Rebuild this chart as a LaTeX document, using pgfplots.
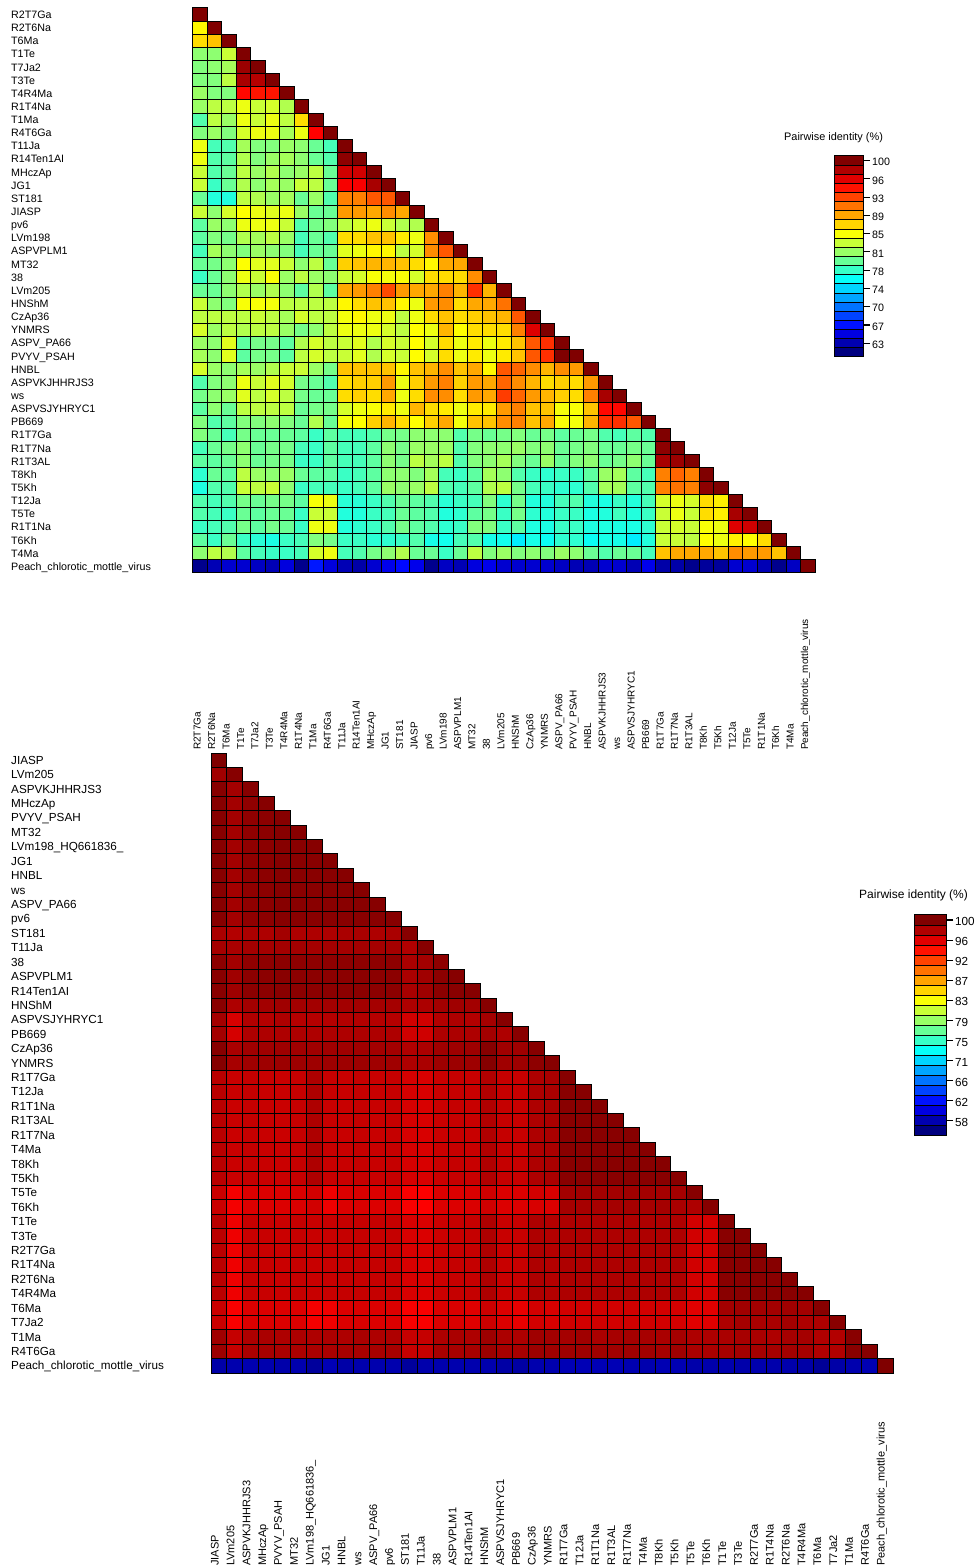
\documentclass[border=0pt]{standalone}
\usepackage{fontspec}
\setmainfont{Liberation Sans}
\usepackage{pgfplots}
\pgfplotsset{compat=1.18}

% jet, positions as in the reference's colour bars
\pgfplotsset{
  colormap={pw}{rgb255(0cm)=(0,0,128) rgb255(1cm)=(0,0,255) rgb255(3cm)=(0,255,255)
    rgb255(5cm)=(255,255,0) rgb255(7cm)=(255,0,0) rgb255(8cm)=(128,0,0)},
  colormap={pwt}{rgb255(0cm)=(0,0,128) rgb255(1cm)=(0,0,255) rgb255(2.75cm)=(0,255,255)
    rgb255(5cm)=(255,255,0) rgb255(7cm)=(255,0,0) rgb255(8cm)=(128,0,0)},
  colormap name=pw,
  cell/.style={scatter,only marks,mark=square*,mark size=7pt,point meta=explicit,
    scatter/use mapped color={draw=black,fill=mapped color},line width=1pt},
  tri/.style={scale only axis,anchor=south west,clip=false,y dir=reverse,
    xmin=-0.5,xmax=42.5,ymin=-0.5,ymax=42.5,
    xtick={0,...,42},ytick={0,...,42},major tick length=0pt,
    axis line style={draw=none},typeset ticklabels with strut},
  bar/.style={scale only axis,anchor=south west,clip=false,y dir=reverse,
    xmin=0,xmax=1,ymin=-0.5,ymax=21.5,xtick=\empty,ytick={0,2,...,20},
    ytick pos=right,yticklabel pos=right,tick align=outside,major tick length=7pt,
    axis line style={draw=none},tick style={black,line width=1.1pt},
    yticklabel style={anchor=west,inner sep=0pt,xshift=2pt,yshift=-1.5pt}},
}
\newcommand{\cellrow}[3][]{\addplot[cell,#1] table[x expr=\coordindex,y expr=#2,meta index=0,header=false,row sep=\\]{#3};}

\def\toplab{R2T7Ga,R2T6Na,T6Ma,T1Te,T7Ja2,T3Te,T4R4Ma,R1T4Na,T1Ma,R4T6Ga,T11Ja,R14Ten1AI,MHczAp,JG1,ST181,JIASP,pv6,LVm198,ASPVPLM1,MT32,38,LVm205,HNShM,CzAp36,YNMRS,ASPV\_PA66,PVYV\_PSAH,HNBL,ASPVKJHHRJS3,ws,ASPVSJYHRYC1,PB669,R1T7Ga,R1T7Na,R1T3AL,T8Kh,T5Kh,T12Ja,T5Te,R1T1Na,T6Kh,T4Ma,Peach\_chlorotic\_mottle\_virus}
\def\botlab{JIASP,LVm205,ASPVKJHHRJS3,MHczAp,PVYV\_PSAH,MT32,LVm198\_HQ661836\_,JG1,HNBL,ws,ASPV\_PA66,pv6,ST181,T11Ja,38,ASPVPLM1,R14Ten1AI,HNShM,ASPVSJYHRYC1,PB669,CzAp36,YNMRS,R1T7Ga,T12Ja,R1T1Na,R1T3AL,R1T7Na,T4Ma,T8Kh,T5Kh,T5Te,T6Kh,T1Te,T3Te,R2T7Ga,R1T4Na,R2T6Na,T4R4Ma,T6Ma,T7Ja2,T1Ma,R4T6Ga,Peach\_chlorotic\_mottle\_virus}

\begin{document}
\begin{tikzpicture}
\path[use as bounding box] (0,0) rectangle (976pt,1566pt);

% upper triangle
\begin{axis}[tri,at={(193pt,993pt)},width=622pt,height=565pt,colormap name=pwt,
  point meta min=62,point meta max=100,
  cell/.append style={mark options={xscale=1.0336,yscale=0.9386}},
  xticklabels/.expand once=\toplab,yticklabels/.expand once=\toplab,
  yticklabel style={anchor=west,inner sep=0pt,xshift=-182pt,yshift=-1.5pt,font=\fontsize{10.7}{12}\selectfont},
  xticklabel style={xshift=-2pt,yshift=-177pt,rotate=90,anchor=west,inner sep=0pt,font=\fontsize{10}{12}\selectfont}]
\cellrow{0}{100\\}
\cellrow{1}{86\\100\\}
\cellrow{2}{87\\88\\100\\}
\cellrow{3}{81\\81\\83.5\\100\\}
\cellrow{4}{80.5\\81\\82\\99\\100\\}
\cellrow{5}{80.5\\80.5\\83\\98.5\\98\\100\\}
\cellrow{6}{81.5\\80.5\\80.5\\95\\94.5\\94.5\\100\\}
\cellrow{7}{81.5\\83\\83\\85\\83.5\\84\\82.5\\100\\}
\cellrow{8}{78.5\\83\\81.5\\85\\83.5\\85\\83\\87\\100\\}
\cellrow{9}{80.5\\81.5\\80.5\\84\\85\\85\\82\\85\\95.2\\100\\}
\cellrow{10}{85\\78\\78.5\\82\\80.5\\80.5\\81.5\\81\\79.5\\78\\100\\}
\cellrow{11}{85\\78.5\\79\\82.5\\80.5\\81.5\\82\\81\\79.5\\78.5\\99.5\\100\\}
\cellrow{12}{83.5\\78.5\\79.5\\83\\81.5\\82.5\\81\\81.5\\83\\79.5\\97\\97\\100\\}
\cellrow{13}{83.5\\77.5\\79.5\\82.5\\81\\82\\81.5\\83.5\\83\\79.5\\95.5\\95.5\\98.5\\100\\}
\cellrow{14}{79.5\\76.5\\76.5\\83\\82.5\\81.5\\82\\79.5\\81.5\\78.5\\90.5\\90.5\\92\\92\\100\\}
\cellrow{15}{83.5\\81\\84\\85.8\\85\\84.5\\85\\81.5\\79.5\\79.5\\89.5\\89.5\\89\\90\\89\\100\\}
\cellrow{16}{79\\81.5\\81\\85\\85\\85\\83.5\\78.5\\80\\80.5\\83\\84\\85\\83.5\\82.5\\82.5\\100\\}
\cellrow{17}{79\\80.5\\80\\82.5\\82\\83\\81.5\\78\\79.5\\78.5\\87\\87\\88\\88\\86.5\\85\\90\\100\\}
\cellrow{18}{78\\82\\81\\80.5\\81.5\\81\\80.5\\78\\79.5\\79.5\\84.5\\85\\86\\86\\83\\84\\90\\92\\100\\}
\cellrow{19}{79.5\\80\\81\\85.7\\84.5\\84.5\\83.5\\81\\83\\79.5\\87.5\\88\\88.5\\88.5\\88\\87\\86\\89\\89\\100\\}
\cellrow{20}{77.5\\79.5\\81\\85\\83.5\\85.5\\81.5\\83\\81.5\\81\\83.5\\84\\85.5\\85.3\\85.5\\84\\87\\87\\87\\90\\100\\}
\cellrow{21}{79.5\\79.5\\81\\82.5\\81.5\\82.5\\81\\79\\82.5\\79\\89\\89.5\\90.5\\92.5\\89.5\\89\\89\\90.5\\88.5\\93.5\\88.5\\100\\}
\cellrow{22}{83.5\\81\\80.5\\85.5\\85.5\\85.3\\83\\83\\83\\83\\86\\87\\88\\88\\86\\85\\89.5\\90\\87\\89\\89\\91\\100\\}
\cellrow{23}{83\\83\\83\\83\\83.5\\83\\82\\84\\83\\83\\85.3\\86\\85\\85\\83\\85\\87\\88\\87\\87.5\\88\\88.5\\92\\100\\}
\cellrow{24}{84\\81.5\\83\\82.5\\83\\83\\81.5\\80\\81\\83\\85\\85\\85\\84\\83\\85.8\\85\\88.5\\85.8\\87\\87\\87\\90.5\\96.5\\100\\}
\cellrow{25}{81.5\\81\\84.5\\79\\80\\80\\79\\82.5\\84\\83\\83.5\\84.5\\82.5\\84\\83.5\\85.8\\84\\87\\85\\86.5\\85\\86.5\\88\\92\\93.5\\100\\}
\cellrow{26}{82\\81\\84.5\\79\\80\\80\\79\\83\\84\\83\\83.5\\84.5\\82.5\\84\\83.5\\85.8\\84\\87\\85\\86.5\\85\\86.5\\88\\92\\93.5\\100\\100\\}
\cellrow{27}{84\\81.5\\81\\82\\81.5\\82.5\\83.5\\83.5\\81.5\\80\\88\\88\\88\\88\\86\\88\\88.5\\90\\88\\89\\86\\92\\91.5\\90\\88.5\\90\\89.5\\100\\}
\cellrow{28}{78.5\\80.5\\81\\85\\83.5\\84.5\\84\\80\\79.5\\78.5\\87\\87.5\\87.5\\89.5\\85\\87.5\\89.5\\90.5\\87.5\\89.5\\89\\91.5\\90\\88.5\\87\\87.5\\87\\89.5\\100\\}
\cellrow{29}{80\\81\\81.5\\84.5\\83\\84\\83\\80\\79.5\\79.5\\87\\87.5\\87\\89\\85\\87\\90\\90\\87\\89.5\\89\\93\\91.5\\89.5\\88.5\\87.5\\87\\90.5\\98.5\\100\\}
\cellrow{30}{79\\81\\79.5\\83\\83\\83\\83\\79.5\\80\\80\\84\\85\\85.5\\86.5\\85\\88.5\\87\\86.5\\85\\86.5\\86.5\\89.5\\90.5\\88\\88\\85.3\\85.5\\88\\95\\95\\100\\}
\cellrow{31}{80.5\\78.5\\79\\80.5\\80.5\\81\\80.5\\79.5\\82.5\\79.5\\85.3\\85.8\\87.5\\88.5\\87\\85.8\\87.5\\89\\85.3\\88\\88\\90\\90.5\\88\\89\\85.5\\85.3\\88.5\\93.5\\93.5\\92\\100\\}
\cellrow{32}{80.5\\79.5\\78\\80\\79.5\\79.5\\79.5\\79\\77.5\\79\\78\\78\\78.5\\80\\80\\81\\81\\81\\78.5\\80\\79.5\\80\\80.5\\79.5\\80\\79\\79.5\\80\\78.5\\78\\79\\78.5\\100\\}
\cellrow{33}{78\\79.5\\80\\81\\79.5\\80\\80\\78\\77.5\\79\\78\\78\\79\\81\\80\\81.5\\81.5\\81.5\\78.5\\80.5\\81\\81\\81.5\\80.5\\81\\79.5\\80\\80.5\\79.5\\79.5\\80\\79.5\\99.5\\100\\}
\cellrow{34}{79\\79\\79.5\\81\\79.5\\80\\80\\77.5\\77.5\\79\\78\\78\\79\\81\\80\\83\\82\\83\\78.5\\80.5\\81\\82\\80.5\\79.5\\81.5\\79.5\\80.5\\81\\79.5\\80\\81\\79.5\\98.5\\99\\100\\}
\cellrow{35}{77\\79.5\\79\\83\\81.5\\81\\81.5\\79.5\\79\\79\\77.5\\78\\79\\81\\81\\80.5\\82\\78\\77.5\\79\\82\\81\\78.5\\77.5\\77\\77.5\\77.5\\79\\81.5\\82\\79\\78\\90.5\\91.5\\90.5\\100\\}
\cellrow{36}{76.3\\78.5\\78.5\\83.5\\83\\83.5\\81\\77.5\\78\\78\\77.5\\78\\79\\81.5\\81\\81.5\\83\\78.5\\78\\79\\82.5\\83\\80\\78\\77.5\\77\\77\\78.5\\82\\82\\79\\78.5\\90.5\\91\\90.5\\99.5\\100\\}
\cellrow{37}{78.5\\78\\78.5\\80\\79.5\\80\\80\\79\\85.5\\85\\76.8\\76.8\\77.5\\78.5\\79.5\\79\\78.5\\76.8\\77.5\\78\\80.5\\77\\80\\76.5\\76.5\\78\\78.5\\76.5\\76.2\\77.5\\76.5\\78\\84\\85\\84\\87\\86.3\\100\\}
\cellrow{38}{78.5\\78\\77.5\\79.5\\79\\79.5\\79.5\\77.5\\83.5\\83.5\\76.5\\76.5\\77.5\\78\\79.5\\79\\78.5\\76.5\\77\\79\\80\\77.5\\80\\77\\76.5\\77.5\\77.5\\76.2\\76.5\\77.8\\76.5\\77.5\\83.5\\85\\83.5\\87\\86.3\\98.5\\100\\}
\cellrow{39}{77.5\\78\\78.5\\80\\79\\80\\79.5\\77.5\\85\\85\\76.5\\77\\77.5\\78.5\\80\\79\\78.5\\77\\77.5\\80.5\\80.5\\77.5\\79\\76.3\\76.2\\77.5\\77.5\\76.3\\76.3\\76.2\\76.2\\77\\83.5\\84\\83.5\\85.5\\85\\96.5\\97\\100\\}
\cellrow{40}{79\\77.5\\79.5\\77.5\\76.8\\76.2\\77.5\\78\\80.5\\80\\77.5\\77.5\\76.8\\77\\77.5\\78.5\\76\\75.8\\78\\78.5\\76\\75.8\\74.5\\76\\75.5\\77\\77\\75.5\\76\\76\\74.5\\76.5\\83.5\\83.5\\83\\85.8\\85\\86.3\\85.7\\87\\100\\}
\cellrow{41}{81\\83\\82.5\\79\\78\\77.5\\77.5\\78\\84\\85\\78\\78.5\\80\\81\\82.5\\79.5\\79.5\\77.5\\79.5\\83\\80.5\\81.5\\80.5\\81\\80.5\\81.5\\81\\79.5\\78.5\\79.5\\79.5\\78\\88\\89\\89\\89\\88\\90\\89.5\\89.5\\88\\100\\}
\cellrow{42}{62.5\\64\\65\\65\\64.5\\64\\65.5\\62.5\\67.5\\65.5\\64\\63.5\\65\\66\\67\\66\\62.5\\64.5\\64\\65.5\\66\\65\\65\\65\\65\\64.5\\64\\64\\65\\65\\64\\66\\63.5\\63.5\\62.5\\63\\63\\65\\65\\64\\62.5\\64.5\\100\\}
\end{axis}

% lower triangle
\begin{axis}[tri,at={(211pt,193pt)},width=682pt,height=620pt,
  point meta min=56,point meta max=100,
  cell/.append style={mark options={xscale=1.1329,yscale=1.03}},
  xticklabels/.expand once=\botlab,yticklabels/.expand once=\botlab,
  yticklabel style={anchor=west,inner sep=0pt,xshift=-200pt,yshift=-1.5pt,font=\fontsize{11.7}{13}\selectfont},
  xticklabel style={xshift=-3pt,yshift=-193pt,rotate=90,anchor=west,inner sep=0pt,font=\fontsize{11}{13}\selectfont}]
\cellrow{0}{100\\}
\cellrow{1}{98.6\\99.7\\}
\cellrow{2}{99.7\\98.5\\99.7\\}
\cellrow{3}{99.7\\98.5\\99.3\\99.7\\}
\cellrow{4}{99.7\\98.5\\99.3\\99.5\\99.7\\}
\cellrow{5}{99.7\\98.5\\99.3\\99.5\\99.7\\99.7\\}
\cellrow{6}{99.7\\98.5\\99.3\\99.5\\99.7\\99.6\\99.7\\}
\cellrow{7}{99.7\\98.5\\99.3\\99.5\\99.7\\99.6\\99.6\\99.7\\}
\cellrow{8}{99.7\\98.5\\99.3\\99.5\\99.7\\99.6\\99.6\\99.6\\99.7\\}
\cellrow{9}{99.7\\98.5\\99.3\\99.5\\99.7\\99.6\\99.6\\99.6\\99.6\\99.7\\}
\cellrow{10}{99.7\\98.5\\99.3\\99.5\\99.7\\99.6\\99.6\\99.6\\99.6\\99.6\\99.7\\}
\cellrow{11}{99.7\\98.5\\99.3\\99.5\\99.7\\99.6\\99.6\\99.6\\99.6\\99.6\\99.6\\99.7\\}
\cellrow{12}{98.2\\97.8\\98.1\\98\\98.5\\98\\98\\98\\98.2\\98.2\\98\\98.2\\99.7\\}
\cellrow{13}{98.4\\98.2\\98.4\\98.4\\98.5\\98.5\\98.4\\98.4\\98.4\\98.4\\98.4\\98.4\\97.9\\99.7\\}
\cellrow{14}{99.5\\98.5\\99.3\\99.4\\99.5\\99.4\\99.4\\99.4\\99.4\\99.4\\99.4\\99.4\\98.2\\98.5\\99.4\\}
\cellrow{15}{99.6\\98.6\\99.5\\99.5\\99.6\\99.5\\99.5\\99.5\\99.5\\99.5\\99.5\\99.5\\98.2\\98.6\\99.5\\99.7\\}
\cellrow{16}{99.6\\98.7\\99.5\\99.5\\99.6\\99.5\\99.5\\99.5\\99.5\\99.5\\99.5\\99.5\\98.3\\98.7\\99.5\\99.6\\99.7\\}
\cellrow{17}{99.6\\98\\98.5\\98.5\\98.6\\98.5\\98.5\\98.5\\98.5\\98.5\\98.4\\98.4\\98\\98.1\\98.5\\98.6\\98.5\\99.7\\}
\cellrow{18}{98.5\\96.2\\97.9\\97.7\\98\\97.7\\97.7\\97.7\\97.8\\97.8\\97.7\\97.7\\96.5\\96.5\\97.8\\98\\97.8\\98.4\\99.7\\}
\cellrow{19}{98.5\\96.3\\98\\98\\98\\98\\98\\98\\98\\98\\98\\98\\96.6\\96.6\\98\\98.1\\98\\98.5\\98\\99.6\\}
\cellrow{20}{99.7\\98.2\\98.6\\98.6\\98.7\\98.6\\98.6\\98.6\\98.6\\98.6\\98.5\\98.5\\97.9\\98.1\\98.6\\98.7\\98.7\\99.7\\98.6\\98.6\\99.7\\}
\cellrow{21}{99.8\\98.3\\98.6\\98.7\\98.8\\98.7\\98.7\\98.7\\98.7\\98.7\\98.6\\98.6\\98\\98.2\\98.7\\98.8\\98.7\\99.8\\98.6\\98.7\\99.4\\99.7\\}
\cellrow{22}{97.5\\96.8\\97\\96.9\\96.8\\97\\98\\96.9\\96.9\\97\\96.9\\97\\96.3\\96.2\\96.8\\97\\96.9\\97.9\\97\\96.9\\98\\98.2\\99.7\\}
\cellrow{23}{97.5\\96.8\\97\\96.9\\96.8\\97\\98\\96.9\\96.9\\97\\96.9\\97\\96.3\\96.2\\96.8\\97\\96.9\\97.9\\97\\96.9\\98\\98.2\\99.6\\99.7\\}
\cellrow{24}{97.5\\96.8\\97\\96.9\\96.8\\97\\98\\96.9\\96.9\\97\\96.9\\97\\96.3\\96.2\\96.8\\97\\96.9\\97.9\\97\\96.9\\98\\98.2\\99.6\\99.6\\99.7\\}
\cellrow{25}{97.5\\96.8\\97\\96.9\\96.8\\97\\98\\96.9\\96.9\\97\\96.9\\97\\96.3\\96.2\\96.8\\97\\96.9\\97.9\\97\\96.9\\98\\98.2\\99.6\\99.6\\99.6\\99.7\\}
\cellrow{26}{97.5\\96.8\\97\\96.9\\96.8\\97\\98\\96.9\\96.9\\97\\96.9\\97\\96.3\\96.2\\96.8\\97\\96.9\\97.9\\97\\96.9\\98\\98.2\\99.6\\99.6\\99.6\\99.6\\99.7\\}
\cellrow{27}{97.5\\96.8\\97\\96.9\\96.8\\97\\98\\96.9\\96.9\\97\\96.9\\97\\96.3\\96.2\\96.8\\97\\96.9\\97.9\\97\\96.9\\98\\98.2\\99.6\\99.6\\99.6\\99.6\\99.6\\99.7\\}
\cellrow{28}{97.5\\96.8\\97\\96.9\\96.8\\97\\98\\96.9\\96.9\\97\\96.9\\97\\96.3\\96.2\\96.8\\97\\96.9\\97.9\\97\\96.9\\98\\98.2\\99.6\\99.6\\99.6\\99.6\\99.6\\99.6\\99.7\\}
\cellrow{29}{97.5\\96.8\\97\\96.9\\96.8\\97\\98\\96.9\\96.9\\97\\96.9\\97\\96.3\\96.2\\96.8\\97\\96.9\\97.9\\97\\96.9\\98\\98.2\\99.6\\99.6\\99.6\\99.6\\99.6\\99.6\\99.6\\99.7\\}
\cellrow{30}{96.8\\95\\96\\96\\96\\96.1\\96.5\\95.2\\96\\96.1\\96\\96\\94.8\\94.6\\96\\96\\96.1\\96.6\\96\\96\\96.5\\96.2\\98.5\\98.6\\98.5\\98.5\\98.6\\98.5\\98.4\\98.4\\99.7\\}
\cellrow{31}{96.8\\95\\96\\96\\96\\96.1\\96.5\\95.2\\96\\96.1\\96\\96\\94.8\\94.6\\96\\96\\96.1\\96.6\\96\\96\\96.2\\96\\98.4\\98.3\\98.3\\98.4\\98.4\\98.3\\98.4\\98.2\\98\\99.7\\}
\cellrow{32}{97.5\\95.2\\96.9\\96.9\\96.8\\97\\96.9\\96.9\\97\\97\\97\\97\\96.2\\96.1\\96.7\\97\\97\\98\\96.9\\96.9\\98\\97.8\\98\\98\\98\\98\\98\\98\\98\\98\\96.5\\96.3\\99.7\\}
\cellrow{33}{97.5\\95.2\\96.9\\96.9\\96.8\\97\\96.9\\96.9\\97\\97\\97\\97\\96.2\\96.1\\96.7\\97\\97\\98\\96.9\\96.9\\98\\97.8\\98\\98\\98\\98\\98\\98\\98\\98\\96.5\\96.3\\99.6\\99.7\\}
\cellrow{34}{97.5\\95.2\\96.9\\96.9\\96.8\\97\\96.9\\96.9\\97\\97\\97\\97\\96.2\\96.1\\96.7\\97\\97\\98\\96.9\\96.9\\98\\97.8\\98\\98\\98\\98\\98\\98\\98\\98\\96.5\\96.3\\99.6\\99.6\\99.7\\}
\cellrow{35}{97.5\\95.2\\96.9\\96.9\\96.8\\97\\96.9\\96.9\\97\\97\\97\\97\\96.2\\96.1\\96.7\\97\\97\\98\\96.9\\96.9\\98\\97.8\\98\\98\\98\\98\\98\\98\\98\\98\\96.5\\96.3\\99.6\\99.6\\99.6\\99.7\\}
\cellrow{36}{97.5\\95.2\\96.9\\96.9\\96.8\\97\\96.9\\96.9\\97\\97\\97\\97\\96.2\\96.1\\96.7\\97\\97\\98\\96.9\\96.9\\98\\97.8\\98\\98\\98\\98\\98\\98\\98\\98\\96.5\\96.3\\99.6\\99.6\\99.6\\99.6\\99.7\\}
\cellrow{37}{97.5\\95.2\\96.9\\96.9\\96.8\\97\\96.9\\96.9\\97\\97\\97\\97\\96.2\\96.1\\96.7\\97\\97\\98\\96.9\\96.9\\98\\97.8\\98\\98\\98\\98\\98\\98\\98\\98\\96.5\\96.3\\99.6\\99.6\\99.6\\99.6\\99.6\\99.7\\}
\cellrow{38}{96.8\\94.7\\96\\96\\96\\96\\95\\95.2\\96\\96.1\\96\\96\\94.8\\94.7\\96\\96.1\\95.9\\96.7\\96\\95.5\\96.5\\96.2\\96.5\\96.5\\96.5\\96.5\\96.5\\96.5\\96.5\\96.3\\95.8\\95.8\\98.5\\98.6\\98.5\\98.5\\98.6\\98.5\\99.7\\}
\cellrow{39}{96.8\\94.7\\96\\96\\96\\96\\95\\95.2\\96\\96.1\\96\\96\\94.8\\94.7\\96\\96.1\\95.9\\96.7\\96\\95.5\\96.5\\96.2\\96.5\\96.5\\96.5\\96.5\\96.5\\96.5\\96.5\\96.3\\95.8\\95.8\\98\\98.4\\98.2\\98.2\\98.5\\98\\98\\99.6\\}
\cellrow{40}{98.6\\97\\98\\98.2\\98\\98.1\\98\\98.1\\98\\98.2\\98\\98\\97\\97\\98\\98.2\\98\\98.7\\98.1\\98\\98.6\\98.5\\98.4\\98.6\\98.2\\98.3\\98.4\\98.3\\98.2\\98.4\\98\\98\\98.2\\98.3\\98.2\\98\\98.4\\98.4\\97.9\\97.8\\99.6\\}
\cellrow{41}{98.8\\97\\98.2\\98.3\\98.2\\98.2\\98.2\\98.2\\98.3\\98.3\\98.3\\98.3\\97\\97\\98.3\\98.3\\98.3\\98.8\\98.3\\98.3\\98.8\\98.6\\98.7\\98.7\\98.6\\98.6\\98.6\\98.6\\98.4\\98.6\\98.2\\98.2\\98.4\\98.5\\98.4\\98.4\\98.5\\98.4\\97.9\\97.9\\99.6\\99.7\\}
\cellrow{42}{57.7\\58\\58.1\\58\\57.8\\58\\57.2\\58.3\\57.7\\57.9\\58\\58\\57.2\\57.9\\58\\58\\58\\58\\57.6\\57.5\\58\\58\\58.3\\58.3\\58.3\\58.3\\58.1\\58\\58.2\\58.2\\57.8\\57.9\\58\\57.8\\58\\57.9\\57.9\\57.7\\57\\57.7\\58\\58.2\\100\\}
\end{axis}

% colour bar, upper
\begin{axis}[bar,at={(834pt,1209pt)},width=29pt,height=201pt,
  point meta min=62,point meta max=100,
  cell/.append style={mark options={xscale=2.0714,yscale=0.6526}},
  yticklabels={100,96,93,89,85,81,78,74,70,67,63},
  yticklabel style={font=\fontsize{10.7}{12}\selectfont}]
\addplot[cell] table[x=x,y=k,meta=v] {
x k v
0.5 0 100
0.5 1 98.19
0.5 2 96.38
0.5 3 94.57
0.5 4 92.76
0.5 5 90.95
0.5 6 89.14
0.5 7 87.33
0.5 8 85.52
0.5 9 83.71
0.5 10 81.9
0.5 11 80.1
0.5 12 78.29
0.5 13 76.48
0.5 14 74.67
0.5 15 72.86
0.5 16 71.05
0.5 17 69.24
0.5 18 67.43
0.5 19 65.62
0.5 20 63.81
0.5 21 62
};
\end{axis}

% colour bar, lower
\begin{axis}[bar,at={(914pt,430pt)},width=32pt,height=221pt,
  point meta min=56,point meta max=100,
  cell/.append style={mark options={xscale=2.2857,yscale=0.7175}},
  yticklabels={100,96,92,87,83,79,75,71,66,62,58},
  yticklabel style={font=\fontsize{11.7}{13}\selectfont}]
\addplot[cell] table[x=x,y=k,meta=v] {
x k v
0.5 0 100
0.5 1 97.9
0.5 2 95.81
0.5 3 93.71
0.5 4 91.62
0.5 5 89.52
0.5 6 87.43
0.5 7 85.33
0.5 8 83.24
0.5 9 81.14
0.5 10 79.05
0.5 11 76.95
0.5 12 74.86
0.5 13 72.76
0.5 14 70.67
0.5 15 68.57
0.5 16 66.48
0.5 17 64.38
0.5 18 62.29
0.5 19 60.19
0.5 20 58.1
0.5 21 56
};
\end{axis}

\node[anchor=west,inner sep=0pt,font=\fontsize{10.9}{12}\selectfont] at (784pt,1428.5pt) {Pairwise identity (\%)};
\node[anchor=west,inner sep=0pt,font=\fontsize{12}{14}\selectfont] at (859pt,670.5pt) {Pairwise identity (\%)};
\end{tikzpicture}
\end{document}
